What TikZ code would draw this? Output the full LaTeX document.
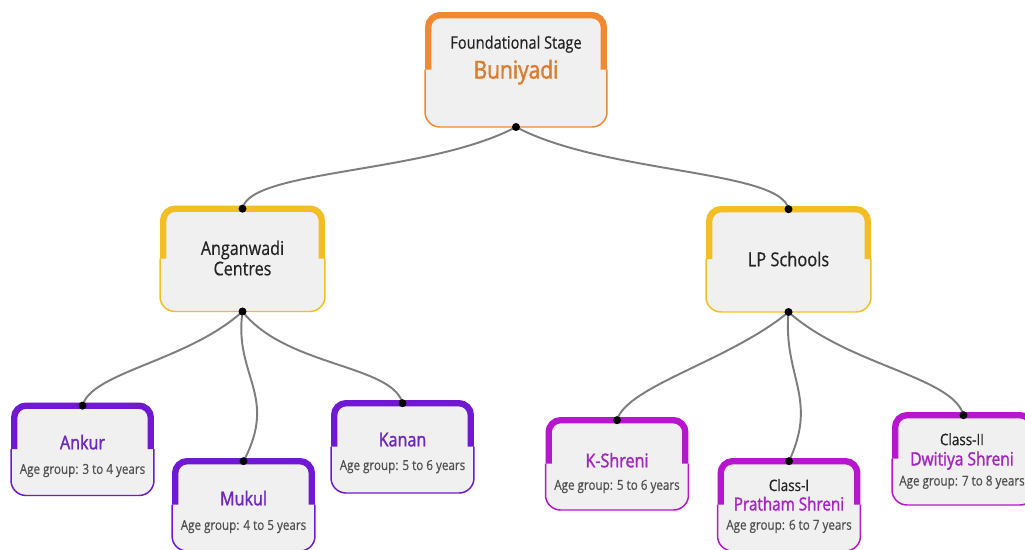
\documentclass[tikz,border=0pt]{standalone}
\usepackage{fontspec}
\setmainfont{Open Sans}[FakeStretch=0.85, FakeBold=0.5]
\newfontfamily\headfont{Open Sans}[FakeStretch=0.85, FakeBold=1.6]

\definecolor{boxgray}{RGB}{240,240,240}
\definecolor{linkgray}{RGB}{125,125,125}
\definecolor{inkblack}{RGB}{35,35,35}
\definecolor{agegray}{RGB}{80,80,80}
\definecolor{stageorange}{RGB}{240,137,48}
\definecolor{stagetext}{RGB}{222,124,46}
\definecolor{centreyellow}{RGB}{242,190,36}
\definecolor{leafviolet}{RGB}{112,24,210}
\definecolor{violettext}{RGB}{110,40,190}
\definecolor{leafmagenta}{RGB}{182,22,206}
\definecolor{magentatext}{RGB}{165,38,192}

\tikzset{
  box/.style={fill=boxgray, rounded corners=0.3cm, inner sep=0pt, outer sep=0pt},
  topbox/.style={box, minimum width=3.64cm, minimum height=2.3cm},
  midbox/.style={box, minimum width=3.3cm, minimum height=2.12cm},
  leafbox/.style={box, minimum width=2.86cm, minimum height=1.86cm},
  frame/.style={line width=0.85pt, rounded corners=0.3cm},
  bar/.style={line width=3.6pt, rounded corners=0.24cm},
  link/.style={draw=linkgray, line width=1.1pt},
  txt/.style={align=center, inner sep=0pt, text=inkblack},
}

\begin{document}
\begin{tikzpicture}[x=0.02cm, y=0.02cm]
  \useasboundingbox (0,0) rectangle (1025,-549);

  % boxes
  \node[topbox] (found) at (516,-69.5) {};
  \node[midbox] (angan) at (242.5,-258.5) {};
  \node[midbox] (lp) at (788.5,-259) {};
  \node[leafbox] (ankur) at (82.5,-449) {};
  \node[leafbox] (mukul) at (243.5,-504.5) {};
  \node[leafbox] (kanan) at (402.5,-446.5) {};
  \node[leafbox] (kshreni) at (617,-463.5) {};
  \node[leafbox] (classone) at (789,-504.5) {};
  \node[leafbox] (classtwo) at (963.5,-458.5) {};

  % frames: thin outline below, thick bar on top
  \foreach \n/\c in {found/stageorange, angan/centreyellow, lp/centreyellow,
                     ankur/leafviolet, mukul/leafviolet, kanan/leafviolet,
                     kshreni/leafmagenta, classone/leafmagenta, classtwo/leafmagenta} {
    \draw[\c, frame] (\n.west) |- (\n.south) -| (\n.east);
    \draw[\c, bar] ([xshift=1.8pt]\n.west) |- ([yshift=-1.8pt]\n.north) -| ([xshift=-1.8pt]\n.east);
  }

  % texts
  \node[txt, font=\fontsize{9.8}{17}\selectfont] (found-t) at (516,-60)
    {Foundational Stage\\{\headfont\fontsize{14}{17}\selectfont\color{stagetext}Buniyadi}};
  \node[txt, font=\fontsize{10.8}{11.6}\selectfont] (angan-t) at (242.5,-258) {Anganwadi\\Centres};
  \node[txt, font=\fontsize{11}{13}\selectfont] (lp-t) at (788.5,-259) {LP Schools};
  \node[txt, font=\fontsize{7.8}{14}\selectfont, text=agegray] (ankur-t) at (82.5,-456)
    {{\headfont\fontsize{10.8}{14}\selectfont\color{violettext}Ankur}\\Age group: 3 to 4 years};
  \node[txt, font=\fontsize{7.8}{14}\selectfont, text=agegray] (mukul-t) at (243.5,-512)
    {{\headfont\fontsize{10.8}{14}\selectfont\color{violettext}Mukul}\\Age group: 4 to 5 years};
  \node[txt, font=\fontsize{7.8}{13.5}\selectfont, text=agegray] (kanan-t) at (402.5,-453)
    {{\headfont\fontsize{10.8}{13.5}\selectfont\color{violettext}Kanan}\\Age group: 5 to 6 years};
  \node[txt, font=\fontsize{7.8}{12.8}\selectfont, text=agegray] (kshreni-t) at (617,-473)
    {{\headfont\fontsize{10.8}{12.8}\selectfont\color{magentatext}K-Shreni}\\Age group: 5 to 6 years};
  \node[txt, font=\fontsize{7.8}{11}\selectfont, text=agegray] (classone-t) at (789,-506)
    {{\fontsize{9}{11}\selectfont\color{inkblack}Class-I}\\
     {\headfont\fontsize{10.2}{11}\selectfont\color{magentatext}Pratham Shreni}\\Age group: 6 to 7 years};
  \node[txt, font=\fontsize{7.8}{11.5}\selectfont, text=agegray] (classtwo-t) at (962,-461)
    {{\fontsize{9}{11.5}\selectfont\color{inkblack}Class-II}\\
     {\headfont\fontsize{10.4}{11.5}\selectfont\color{magentatext}Dwitiya Shreni}\\Age group: 7 to 8 years};

  % connectors
  \draw[link] (found.south) to[out=-152, in=80, out distance=2cm, in distance=0.8cm] ([yshift=-1.8pt]angan.north);
  \draw[link] (found.south) to[out=-28, in=100, out distance=2cm, in distance=0.8cm] ([yshift=-1.8pt]lp.north);
  \draw[link] (angan.south) to[out=-138, in=75, out distance=1.5cm, in distance=0.7cm] ([yshift=-1.8pt]ankur.north);
  \draw[link] (angan.south) to[out=-98, in=62, out distance=1.3cm, in distance=1.5cm] ([yshift=-1.8pt]mukul.north);
  \draw[link] (angan.south) to[out=-52, in=105, out distance=1.4cm, in distance=0.8cm] ([yshift=-1.8pt]kanan.north);
  \draw[link] (lp.south) to[out=-140, in=75, out distance=1.5cm, in distance=0.7cm] ([yshift=-1.8pt]kshreni.north);
  \draw[link] (lp.south) to[out=-95, in=65, out distance=1.3cm, in distance=1.4cm] ([yshift=-1.8pt]classone.north);
  \draw[link] (lp.south) to[out=-42, in=105, out distance=1.6cm, in distance=0.8cm] ([yshift=-1.8pt]classtwo.north);

  % dots
  \foreach \n in {found, angan, lp}
    \fill[black] (\n.south) circle (0.08cm);
  \foreach \n in {angan, lp, ankur, mukul, kanan, kshreni, classone, classtwo}
    \fill[black] ([yshift=-1.8pt]\n.north) circle (0.08cm);
\end{tikzpicture}
\end{document}
